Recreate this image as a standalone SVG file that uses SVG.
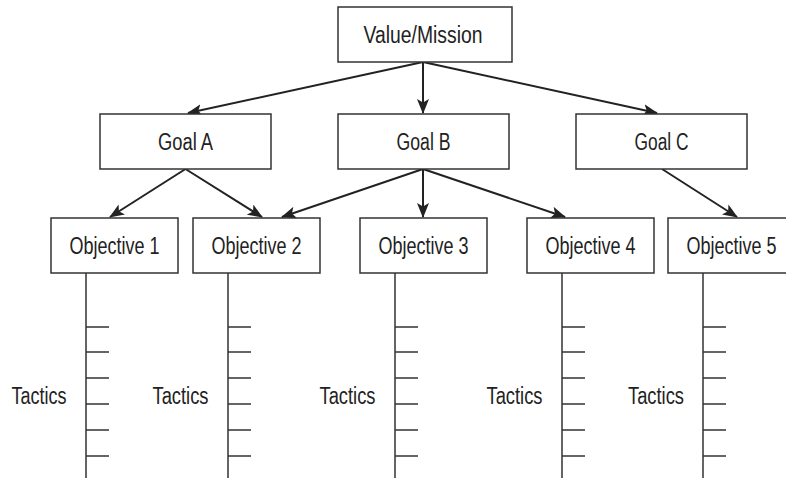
<svg xmlns="http://www.w3.org/2000/svg" width="786" height="478" viewBox="0 0 786 478">
<style>
.box{fill:#fff;stroke:#333;stroke-width:1.5}
.t{font-family:"Liberation Sans",Arial,sans-serif;font-size:23px;fill:#222;text-anchor:middle}
.c{stroke:#222;stroke-width:2;fill:none}
.v{stroke:#333;stroke-width:1.5;fill:none}
</style>
<defs>
<marker id="ah" markerUnits="userSpaceOnUse" markerWidth="15" markerHeight="12" viewBox="0 0 15 12" refX="14" refY="6" orient="auto">
<path d="M0,0 L15,6 L0,12 L3.5,6 z" fill="#222"/>
</marker>
</defs>
<rect width="786" height="478" fill="#fff"/>
<g id="connectors">
<line class="c" x1="423" y1="62" x2="188" y2="113" marker-end="url(#ah)"/>
<line class="c" x1="423" y1="62" x2="423" y2="113" marker-end="url(#ah)"/>
<line class="c" x1="423" y1="62" x2="657" y2="113" marker-end="url(#ah)"/>
<line class="c" x1="185.5" y1="169" x2="110" y2="217" marker-end="url(#ah)"/>
<line class="c" x1="185.5" y1="169" x2="262" y2="217" marker-end="url(#ah)"/>
<line class="c" x1="423" y1="169" x2="282" y2="217" marker-end="url(#ah)"/>
<line class="c" x1="423" y1="169" x2="423" y2="217" marker-end="url(#ah)"/>
<line class="c" x1="423" y1="169" x2="565" y2="217" marker-end="url(#ah)"/>
<line class="c" x1="662" y1="169" x2="737" y2="217" marker-end="url(#ah)"/>
</g>
<g id="value-mission"><rect class="box" x="338" y="7" width="174" height="55"/><text class="t" x="423" y="43" textLength="119" lengthAdjust="spacingAndGlyphs">Value/Mission</text></g>
<g id="goal-a"><rect class="box" x="100" y="114" width="171" height="55"/><text class="t" x="185.5" y="150" textLength="55" lengthAdjust="spacingAndGlyphs">Goal A</text></g>
<g id="goal-b"><rect class="box" x="338" y="114" width="171" height="55"/><text class="t" x="423.5" y="150" textLength="54" lengthAdjust="spacingAndGlyphs">Goal B</text></g>
<g id="goal-c"><rect class="box" x="576" y="114" width="171" height="55"/><text class="t" x="661.5" y="150" textLength="54" lengthAdjust="spacingAndGlyphs">Goal C</text></g>
<g id="objective-1"><rect class="box" x="51" y="218" width="127" height="55"/><text class="t" x="114.5" y="254" textLength="90" lengthAdjust="spacingAndGlyphs">Objective 1</text></g>
<g id="objective-2"><rect class="box" x="193" y="218" width="127" height="55"/><text class="t" x="256.5" y="254" textLength="90" lengthAdjust="spacingAndGlyphs">Objective 2</text></g>
<g id="objective-3"><rect class="box" x="360" y="218" width="127" height="55"/><text class="t" x="423.5" y="254" textLength="90" lengthAdjust="spacingAndGlyphs">Objective 3</text></g>
<g id="objective-4"><rect class="box" x="527" y="218" width="127" height="55"/><text class="t" x="590.5" y="254" textLength="90" lengthAdjust="spacingAndGlyphs">Objective 4</text></g>
<g id="objective-5"><rect class="box" x="668" y="218" width="127" height="55"/><text class="t" x="731.5" y="254" textLength="90" lengthAdjust="spacingAndGlyphs">Objective 5</text></g>
<g id="tactics-1">
<path class="v" d="M86,273V478M86,327h23M86,352h23M86,378h23M86,404h23M86,430h23M86,456h23"/>
<text class="t" x="39" y="404" textLength="55" lengthAdjust="spacingAndGlyphs">Tactics</text>
</g>
<g id="tactics-2">
<path class="v" d="M228,273V478M228,327h23M228,352h23M228,378h23M228,404h23M228,430h23M228,456h23"/>
<text class="t" x="180.5" y="404" textLength="56" lengthAdjust="spacingAndGlyphs">Tactics</text>
</g>
<g id="tactics-3">
<path class="v" d="M395,273V478M395,327h23M395,352h23M395,378h23M395,404h23M395,430h23M395,456h23"/>
<text class="t" x="347.5" y="404" textLength="56" lengthAdjust="spacingAndGlyphs">Tactics</text>
</g>
<g id="tactics-4">
<path class="v" d="M562,273V478M562,327h23M562,352h23M562,378h23M562,404h23M562,430h23M562,456h23"/>
<text class="t" x="514.5" y="404" textLength="56" lengthAdjust="spacingAndGlyphs">Tactics</text>
</g>
<g id="tactics-5">
<path class="v" d="M703,273V478M703,327h23M703,352h23M703,378h23M703,404h23M703,430h23M703,456h23"/>
<text class="t" x="656" y="404" textLength="56" lengthAdjust="spacingAndGlyphs">Tactics</text>
</g>
</svg>
